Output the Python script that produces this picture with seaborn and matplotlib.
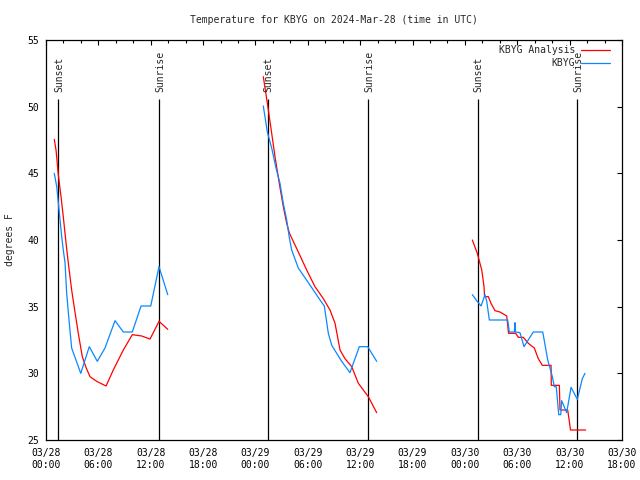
import matplotlib
matplotlib.use("Agg")
import matplotlib.pyplot as plt
import numpy as np
import pandas as pd
import seaborn as sns
from matplotlib.ticker import FixedLocator, MultipleLocator

# ---- data (x = hours since 2024-03-28 00:00 UTC) ----
analysis_h1 = [0.95, 1.15, 1.41, 1.72, 1.98, 2.26, 2.56, 2.94, 3.32, 3.70, 4.16, 4.58, 5.04,
               5.81, 6.88, 7.71, 8.86, 9.89, 10.97, 11.92, 12.95, 13.95]
analysis_t1 = [47.55, 46.75, 44.9, 43.25, 41.75, 40.0, 38.25, 36.25, 34.6, 33.0, 31.25, 30.45, 29.75,
               29.4, 29.05, 30.25, 31.75, 32.9, 32.8, 32.57, 33.9, 33.3]
analysis_h2 = [24.90, 25.40, 25.86, 26.24, 26.73, 27.19, 27.58, 27.90, 28.91, 29.87, 30.82, 31.78,
               32.54, 33.12, 33.69, 34.26, 35.03, 35.79, 36.36, 36.93, 37.89]
analysis_t2 = [52.25, 50.1, 48.0, 46.25, 44.25, 42.5, 41.25, 40.5, 39.1, 37.75, 36.5, 35.6,
               34.75, 33.75, 31.75, 31.1, 30.5, 29.25, 28.75, 28.25, 27.05]
analysis_h3 = [48.85, 49.42, 49.93, 50.19, 50.25, 50.68, 50.99, 51.45, 52.02, 52.79, 53.00, 53.82,
               54.12, 54.69, 55.27, 55.95, 56.41, 56.87, 57.87, 57.90, 58.82, 58.90, 59.78, 60.10, 61.84]
analysis_t3 = [40.0, 39.0, 37.75, 36.5, 35.75, 35.75, 35.25, 34.7, 34.6, 34.3, 33.0, 33.0,
               32.7, 32.7, 32.25, 31.9, 31.1, 30.6, 30.6, 29.1, 29.1, 27.25, 27.25, 25.75, 25.75]

obs_h1 = [0.95, 1.23, 1.41, 1.80, 1.98, 2.18, 2.37, 2.67, 2.94, 3.98, 4.96, 5.88, 6.76, 7.91,
          8.86, 9.89, 10.89, 12.00, 12.95, 13.95]
obs_t1 = [45.0, 44.0, 42.8, 40.25, 39.25, 38.3, 36.0, 33.75, 31.9, 30.0, 32.0, 30.9, 31.9, 33.95,
          33.1, 33.1, 35.05, 35.05, 38.0, 35.9]
obs_h2 = [24.90, 25.36, 25.86, 26.32, 26.81, 27.19, 27.58, 27.90, 28.15, 28.91, 30.63, 31.40,
          31.89, 32.35, 32.74, 33.31, 33.88, 34.83, 35.90, 36.86, 37.89]
obs_t2 = [50.05, 48.1, 46.9, 45.5, 44.25, 42.75, 41.5, 40.1, 39.25, 37.9, 36.25, 35.5,
          35.05, 33.0, 32.1, 31.5, 30.9, 30.05, 32.0, 32.0, 30.9]
obs_h3 = [48.85, 49.35, 49.85, 50.30, 50.50, 50.80, 52.90, 53.09, 53.66, 53.74, 53.80, 54.31,
          54.77, 55.84, 56.92, 57.49, 58.02, 58.24, 58.47, 58.75, 58.98, 59.09, 59.66, 60.16,
          60.88, 61.45, 61.76]
obs_t3 = [35.9, 35.45, 35.05, 35.9, 35.4, 34.0, 34.0, 33.1, 33.1, 33.8, 33.1, 33.05,
          32.0, 33.1, 33.1, 31.0, 29.75, 29.0, 29.0, 26.9, 26.9, 27.95, 27.05, 28.95,
          28.05, 29.6, 30.0]

sunset_h = [1.41, 25.40, 49.47]
sunrise_h = [12.98, 36.93, 60.88]
sun_line_top = 50.57

tick_hours = [0, 6, 12, 18, 24, 30, 36, 42, 48, 54, 60, 66]
tick_labels = ["03/28\n00:00", "03/28\n06:00", "03/28\n12:00", "03/28\n18:00",
               "03/29\n00:00", "03/29\n06:00", "03/29\n12:00", "03/29\n18:00",
               "03/30\n00:00", "03/30\n06:00", "03/30\n12:00", "03/30\n18:00"]
y_ticks = [25, 30, 35, 40, 45, 50, 55]

series_names = ["KBYG Analysis", "KBYG"]
colors = {"KBYG Analysis": "#ff0000", "KBYG": "#0a88ff"}

# ---- build table ----
frames = []
for name, segs in [("KBYG Analysis", [(analysis_h1, analysis_t1), (analysis_h2, analysis_t2), (analysis_h3, analysis_t3)]),
                   ("KBYG", [(obs_h1, obs_t1), (obs_h2, obs_t2), (obs_h3, obs_t3)])]:
    for i, (h, t) in enumerate(segs):
        frames.append(pd.DataFrame({"hour": h, "temp": t, "series": name, "segment": i}))
df = pd.concat(frames, ignore_index=True)

# ---- plot ----
sns.set_style("white")
plt.rcParams['font.family'] = ['DejaVu Sans Mono', 'DejaVu Sans']
plt.rcParams['font.size'] = 7

fig = plt.figure(figsize=(6.4, 4.8), dpi=100)
ax = fig.add_axes([46 / 640, 40 / 480, 576 / 640, 400 / 480])

ax.vlines(sunset_h + sunrise_h, 25, sun_line_top, colors="black", linewidth=0.9, zorder=1)
for h in sunset_h:
    ax.text(h + 0.1, 51.1, "Sunset", rotation=90, ha="center", va="bottom", fontsize=7)
for h in sunrise_h:
    ax.text(h + 0.1, 51.1, "Sunrise", rotation=90, ha="center", va="bottom", fontsize=7)

sns.lineplot(data=df, x="hour", y="temp", hue="series", hue_order=series_names,
             units="segment", estimator=None, sort=False, palette=colors,
             linewidth=0.9, ax=ax, zorder=2)

ax.set_xlim(0, 66)
ax.set_ylim(25, 55)
ax.xaxis.set_major_locator(FixedLocator(tick_hours))
ax.set_xticklabels(tick_labels)
ax.xaxis.set_minor_locator(MultipleLocator(2))
ax.set_yticks(y_ticks)
ax.tick_params(axis="both", which="both", direction="in", top=True, right=True,
               colors="black", labelsize=7, width=0.8)
ax.tick_params(axis="both", which="major", length=3.5)
ax.tick_params(axis="x", which="minor", length=2.2)
ax.tick_params(axis="x", which="major", pad=6)
ax.tick_params(axis="y", which="major", pad=5)
for s in ax.spines.values():
    s.set_color("black")
    s.set_linewidth(0.9)

ax.set_xlabel("")
ax.set_ylabel("degrees F", fontsize=7, labelpad=9)
ax.set_title("Temperature for KBYG on 2024-Mar-28 (time in UTC)", fontsize=7, pad=12)

handles, labels = ax.get_legend_handles_labels()
ax.legend(handles, labels, loc="upper right", bbox_to_anchor=(0.979, 0.987),
          frameon=False, markerfirst=False, fontsize=7, handlelength=3.0,
          handletextpad=0.6, labelspacing=0.32, borderpad=0, borderaxespad=0)

fig.savefig("out.png", dpi=100)
